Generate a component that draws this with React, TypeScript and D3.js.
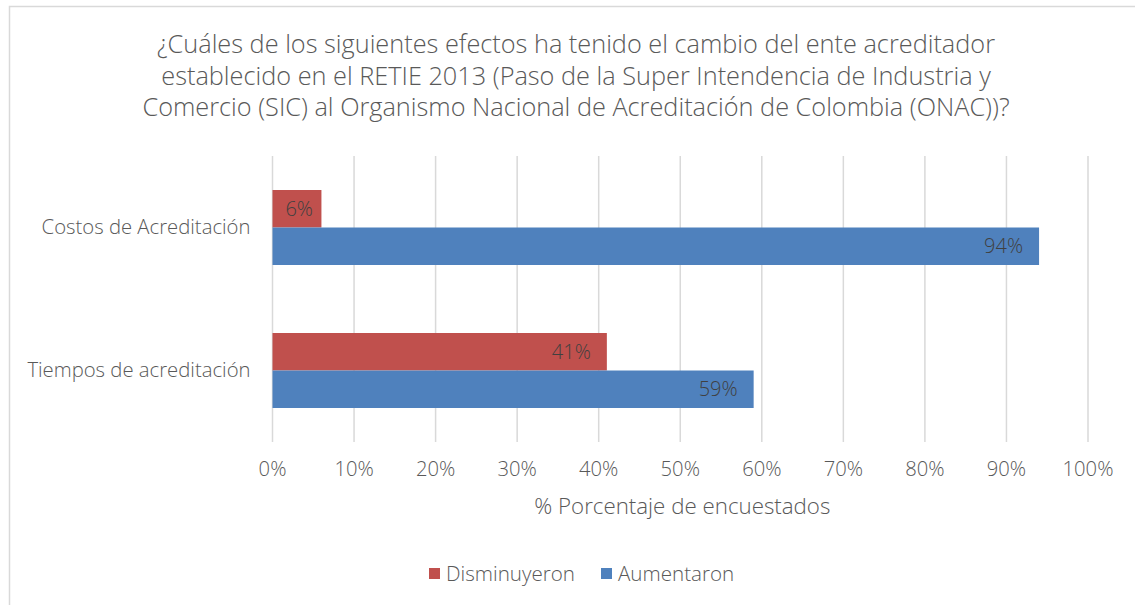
import React from 'react';
import * as d3 from 'd3';

// Horizontal grouped bar chart, two series per category

const titleLines = [
  '¿Cuáles de los siguientes efectos ha tenido el cambio del ente acreditador',
  'establecido en el RETIE 2013 (Paso de la Super Intendencia de Industria y',
  'Comercio (SIC) al Organismo Nacional de Acreditación de Colombia (ONAC))?',
];
const categories = ['Costos de Acreditación', 'Tiempos de acreditación'];
const seriesNames = ['Disminuyeron', 'Aumentaron'];
const disminuyeron = [6, 41];
const aumentaron = [94, 59];
const xTicks = [0, 10, 20, 30, 40, 50, 60, 70, 80, 90, 100];
const colors = ['#C0504D', '#4F81BD'];

const W = 1135, H = 605;
const margin = { top: 156, left: 272.5, right: 47, bottom: 163 };
const font = '"Open Sans", Lato, sans-serif';

export default function App() {
  const w = W - margin.left - margin.right;
  const h = H - margin.top - margin.bottom;

  const x = d3.scaleLinear().domain([0, 100]).range([0, w]);
  const y = d3.scaleBand().domain(categories).range([0, h]);
  const barH = 37.5;
  const series = [disminuyeron, aumentaron];
  const labelSize = 20;

  return (
    <svg width={W} height={H} style={{ position: 'absolute', left: 0, top: 0 }}>
      <rect x={0} y={0} width={W} height={H} fill="#fff" />
      <rect x={9.5} y={6.5} width={W + 10} height={H + 10} fill="none" stroke="#D9D9D9" strokeWidth={1.5} />
      {titleLines.map((t, i) => (
        <text key={i} x={576} y={53 + i * 31.5} textAnchor="middle" fontFamily={font} fontWeight={300} fontSize={25.3} fill="#595959">
          {t}
        </text>
      ))}
      <g transform={`translate(${margin.left},${margin.top})`}>
        {xTicks.map(t => (
          <line key={t} x1={x(t)} x2={x(t)} y1={0} y2={h} stroke="#D9D9D9" strokeWidth={1.5} />
        ))}
        {categories.map((c, ci) => {
          const cy = y(c)! + y.bandwidth() / 2;
          return (
            <g key={c}>
              <text x={-22} y={cy - 1} dy="0.35em" textAnchor="end" fontFamily={font} fontWeight={300} fontSize={20.3} fill="#595959">
                {c}
              </text>
              {series.map((s, si) => {
                const by = cy - barH + si * barH;
                const label = `${s[ci]}%`;
                const end = x(s[ci]);
                // inside end, but keep short labels centred in narrow bars
                const lx = Math.max(end - 16, end / 2 + 0.4 * labelSize * label.length);
                return (
                  <g key={si}>
                    <rect x={x(0)} y={by} width={end} height={barH} fill={colors[si]} />
                    <text x={lx} y={by + barH / 2} dy="0.35em" textAnchor="end" fontFamily={font} fontWeight={300} fontSize={labelSize} fill="#404040">
                      {label}
                    </text>
                  </g>
                );
              })}
            </g>
          );
        })}
        {xTicks.map(t => (
          <text key={t} x={x(t)} y={h + 27} dy="0.35em" textAnchor="middle" fontFamily={font} fontWeight={300} fontSize={20.2} fill="#595959">
            {t}%
          </text>
        ))}
        <text x={w / 2 + 2} y={h + 64} dy="0.35em" textAnchor="middle" fontFamily={font} fontWeight={300} fontSize={22.3} fill="#595959">
          % Porcentaje de encuestados
        </text>
      </g>
      <g>
        {seriesNames.map((n, i) => {
          const lx = [429, 601][i];
          return (
            <g key={n}>
              <rect x={lx} y={568} width={11} height={11} fill={colors[i]} />
              <text x={lx + 17} y={574} dy="0.35em" fontFamily={font} fontWeight={300} fontSize={20.6} fill="#595959">
                {n}
              </text>
            </g>
          );
        })}
      </g>
    </svg>
  );
}
